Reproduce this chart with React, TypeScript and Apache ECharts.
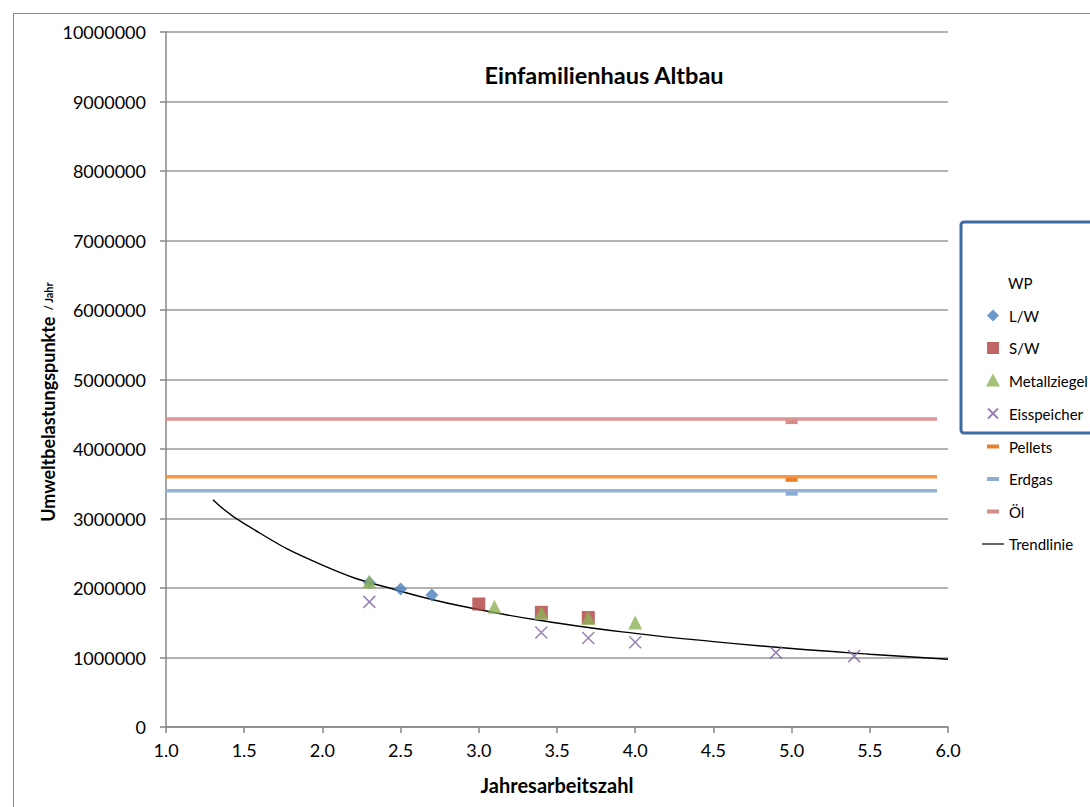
import React, { useEffect, useRef } from 'react';
import * as echarts from 'echarts';

const titleText = 'Einfamilienhaus Altbau';
const xName = 'Jahresarbeitszahl';
const yNameMain = 'Umweltbelastungspunkte';
const yNameSub = '/ Jahr';

const lwData = [[2.3, 2080000], [2.5, 1985000], [2.7, 1900000]];
const swData = [[3.0, 1770000], [3.4, 1650000], [3.7, 1575000]];
const metallData = [[2.3, 2095000], [3.1, 1730000], [3.4, 1640000], [3.7, 1570000], [4.0, 1505000]];
const eisData = [[2.3, 1800000], [3.4, 1360000], [3.7, 1280000], [4.0, 1220000], [4.9, 1070000], [5.4, 1020000]];

const lineXs = [1.0, 5.0, 5.93];
const pelletsValue = 3600000;
const erdgasValue = 3400000;
const oelValue = 4430000;

const trendData = [
  [1.3, 3270000], [1.5, 2925000], [2.0, 2330000], [2.5, 1953000], [3.0, 1690000],
  [3.5, 1497000], [4.0, 1347000], [4.5, 1229000], [5.0, 1129000], [5.5, 1047000], [6.0, 975000],
];

const FONT = 'Lato';

function hLine(v: number) {
  return lineXs.map((x, i) =>
    i === 1 ? { value: [x, v] } : { value: [x, v], symbol: 'none' }
  );
}

const PAD = 'M0,0M22,14';
const icons = {
  lw: `path://${PAD}M11,1L17,7L11,13L5,7Z`,
  sw: `path://${PAD}M5,1h12v12h-12z`,
  metall: `path://${PAD}M11,0L18,13L4,13Z`,
  eis: `path://${PAD}M6,2L16,12M16,2L6,12`,
  dash: `path://${PAD}M5,5h12v4h-12z`,
  trend: `path://${PAD}M0,6.4h22v1.2h-22z`,
};

export default function App() {
  const ref = useRef<HTMLDivElement>(null);
  useEffect(() => {
    const chart = echarts.init(ref.current!, null, { renderer: 'svg' });
    const option: any = {
      animation: false,
      backgroundColor: '#ffffff',
      textStyle: { fontFamily: FONT },
      grid: { left: 166, right: 142, top: 32, bottom: 80, containLabel: false },
      xAxis: {
        type: 'value',
        min: 1,
        max: 6,
        interval: 0.5,
        name: xName,
        nameLocation: 'middle',
        nameGap: 48,
        nameTextStyle: { fontFamily: FONT, fontSize: 20, fontWeight: 'bold', color: '#000' },
        axisLine: { show: true, onZero: false, lineStyle: { color: '#868686', width: 1.5 } },
        axisTick: { show: true, length: 6, lineStyle: { color: '#868686', width: 1.5 } },
        axisLabel: { fontFamily: FONT, fontSize: 18, color: '#000', margin: 14, formatter: (v: number) => v.toFixed(1) },
        splitLine: { show: false },
      },
      yAxis: {
        type: 'value',
        min: 0,
        max: 10000000,
        interval: 1000000,
        axisLine: { show: true, lineStyle: { color: '#868686', width: 1.5 } },
        axisTick: { show: true, length: 6, lineStyle: { color: '#868686', width: 1.5 } },
        axisLabel: { fontFamily: FONT, fontSize: 18, color: '#000', margin: 20, formatter: (v: number) => String(v) },
        splitLine: { show: true, lineStyle: { color: '#999999', width: 1.5 } },
      },
      legend: {
        orient: 'vertical',
        left: 981,
        top: 308,
        padding: 0,
        itemWidth: 22,
        itemHeight: 14,
        itemGap: 17.5,
        textStyle: { fontFamily: FONT, fontSize: 15, color: '#000' },
        data: [
          { name: 'L/W', icon: icons.lw },
          { name: 'S/W', icon: icons.sw },
          { name: 'Metallziegel', icon: icons.metall },
          { name: 'Eisspeicher', icon: icons.eis },
          { name: 'Pellets', icon: icons.dash },
          { name: 'Erdgas', icon: icons.dash },
          { name: 'Öl', icon: icons.dash },
          { name: 'Trendlinie', icon: icons.trend },
        ],
      },
      graphic: [
        {
          type: 'rect',
          left: 11,
          top: 11,
          shape: { width: 1100, height: 830 },
          style: { fill: 'none', stroke: '#8a8a8a', lineWidth: 1 },
          silent: true,
        },
        {
          type: 'rect',
          shape: { x: 961, y: 222, width: 140, height: 211, r: 3 },
          style: { fill: 'none', stroke: '#3E6BA3', lineWidth: 3 },
          silent: true,
          z: 10,
        },
        {
          type: 'text',
          x: 1008,
          y: 283,
          style: { text: 'WP', fontFamily: FONT, fontSize: 15, fill: '#000', textVerticalAlign: 'middle', textAlign: 'left' },
        },
        {
          type: 'text',
          x: 604,
          y: 75,
          style: { text: titleText, fontFamily: FONT, fontSize: 23.5, fontWeight: 'bold', fill: '#000', textAlign: 'center', textVerticalAlign: 'middle' },
        },
        {
          type: 'text',
          x: 46,
          y: 402,
          rotation: Math.PI / 2,
          style: {
            text: `{a|${yNameMain}}{s|  }{b|${yNameSub}}`,
            textAlign: 'center',
            textVerticalAlign: 'middle',
            fill: '#000',
            rich: {
              a: { fontFamily: FONT, fontSize: 18, fontWeight: 'bold', fill: '#000', verticalAlign: 'bottom', lineHeight: 22 },
              s: { fontFamily: FONT, fontSize: 12, lineHeight: 22 },
              b: { fontFamily: FONT, fontSize: 11, fontWeight: 'bold', fill: '#000', verticalAlign: 'bottom', lineHeight: 22, padding: [0, 0, 3, 0] },
            },
          },
        },
      ],
      series: [
        {
          name: 'Öl', type: 'line', data: hLine(oelValue), symbol: 'rect', symbolSize: [12, 4], symbolOffset: [0, 3],
          showAllSymbol: true, color: '#D99694', itemStyle: { color: '#D58D8B' }, lineStyle: { color: '#D99694', width: 3.5 }, z: 2,
        },
        {
          name: 'Pellets', type: 'line', data: hLine(pelletsValue), symbol: 'rect', symbolSize: [12, 4], symbolOffset: [0, 3],
          showAllSymbol: true, color: '#F79646', itemStyle: { color: '#E8802F' }, lineStyle: { color: '#F79646', width: 3.5 }, z: 2,
        },
        {
          name: 'Erdgas', type: 'line', data: hLine(erdgasValue), symbol: 'rect', symbolSize: [12, 4], symbolOffset: [0, 3],
          showAllSymbol: true, color: '#95B3D7', itemStyle: { color: '#8EADD4' }, lineStyle: { color: '#95B3D7', width: 3.5 }, z: 2,
        },
        {
          name: 'Trendlinie', type: 'line', data: trendData, smooth: true, symbol: 'none', color: '#000',
          lineStyle: { color: '#000', width: 1.4 }, z: 3,
        },
        {
          name: 'L/W', type: 'scatter', data: lwData, symbol: 'diamond', symbolSize: 13, color: '#4A7EBB',
          itemStyle: { color: '#4A7EBB' }, z: 4,
        },
        {
          name: 'S/W', type: 'scatter', data: swData, symbol: 'rect', symbolSize: 13, color: '#B0413E',
          itemStyle: { color: '#B0413E' }, z: 4,
        },
        {
          name: 'Metallziegel', type: 'scatter', data: metallData, symbol: 'triangle', symbolSize: 14, color: '#8DB255',
          itemStyle: { color: '#8DB255' }, z: 5,
        },
        {
          name: 'Eisspeicher', type: 'scatter', data: eisData, symbol: 'path://M0,0L10,10M10,0L0,10', symbolSize: 12,
          color: '#7F62A1', itemStyle: { color: 'rgba(0,0,0,0)', borderColor: '#7F62A1', borderWidth: 1.5 }, z: 5,
        },
      ],
    };
    chart.setOption(option);
    return () => chart.dispose();
  }, []);
  return (
    <div
      ref={ref}
      style={{ position: 'fixed', left: 0, top: 0, width: 1090, height: 807, background: '#fff' }}
    />
  );
}
